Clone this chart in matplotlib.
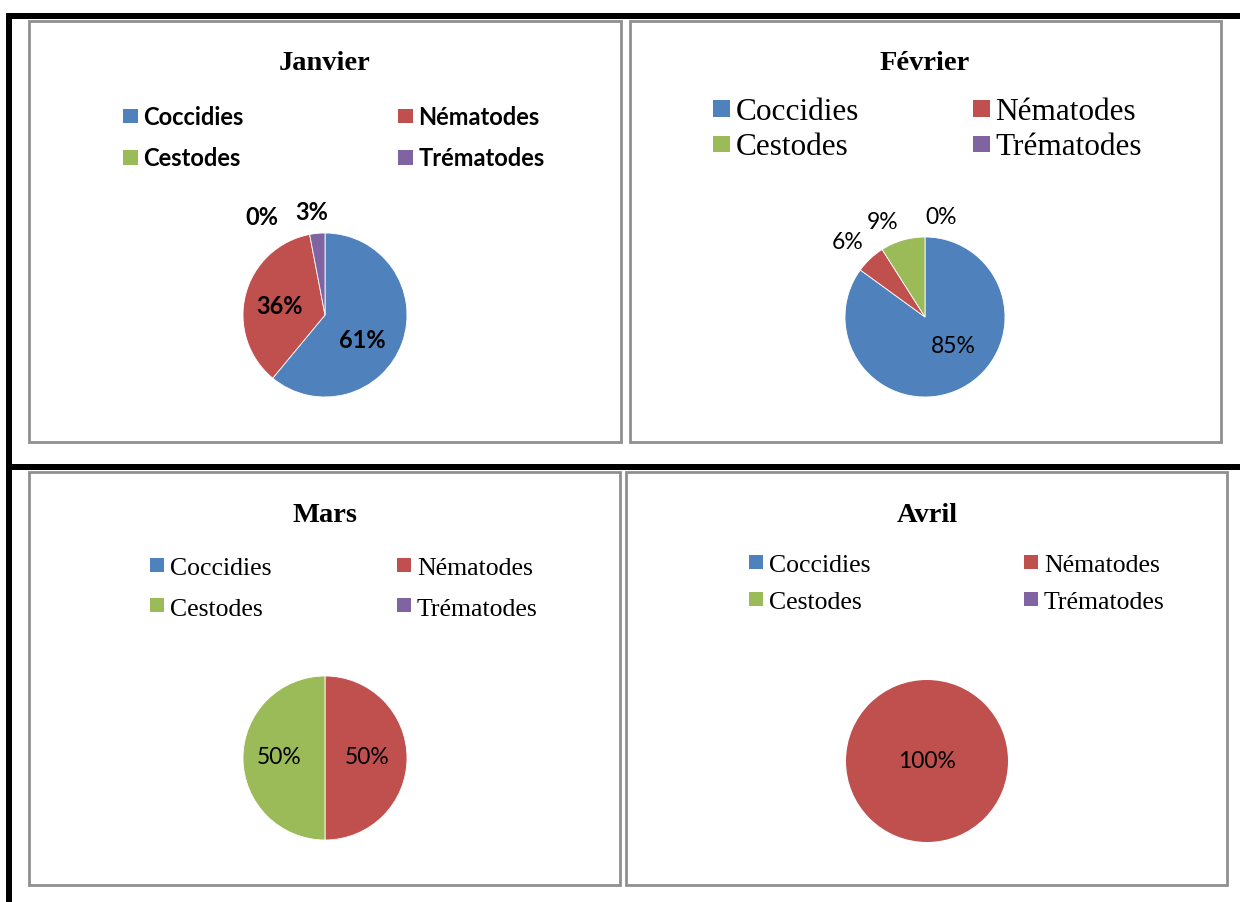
import numpy as np
import matplotlib.pyplot as plt
from matplotlib.patches import Rectangle

# parasites et couleurs
categories = ["Coccidies", "Nématodes", "Cestodes", "Trématodes"]
couleurs = ["#4F81BD", "#C0504D", "#9BBB59", "#8064A2"]

mois = ["Janvier", "Février", "Mars", "Avril"]
janvier = [61, 36, 0, 3]
fevrier = [85, 6, 9, 0]
mars = [0, 50, 50, 0]
avril = [0, 100, 0, 0]
# parts affichées en étiquette
etiq_janvier = [True, True, True, True]
etiq_fevrier = [True, True, True, True]
etiq_mars = [False, True, True, False]
etiq_avril = [False, True, False, False]

W, H = 1240, 902


def Y(y):
    return H - y


SANS = "Lato"
SERIF = "Liberation Serif"

# mise en page des 4 graphes (en pixels)
panneaux = [
    dict(valeurs=janvier, etiq=etiq_janvier, cadre=(29, 21, 621, 442),
         titre=(325, 70), centre=(325, 315), rayon=82,
         dist=[0.55, 0.56, 1.41, 1.26], decal=[-14, 4, 22, 2],
         leg_x=[123, 398], leg_y=[116, 157.5], leg_base=[125, 166], carre=14.5,
         leg_font=dict(family=SANS, weight="bold", size=17),
         lab_font=dict(family=SANS, weight="bold", size=17)),
    dict(valeurs=fevrier, etiq=etiq_fevrier, cadre=(630, 21, 1221, 442),
         titre=(925, 70), centre=(925, 317), rayon=80,
         dist=[0.51, 1.34, 1.3, 1.26], decal=[16, 3, 8, -9],
         leg_x=[713, 973], leg_y=[108.5, 144], leg_base=[120, 155], carre=16.5,
         leg_font=dict(family=SERIF, size=22.5),
         lab_font=dict(family=SANS, size=16.5)),
    dict(valeurs=mars, etiq=etiq_mars, cadre=(29, 472, 620, 885),
         titre=(325, 522), centre=(325, 758), rayon=82,
         dist=[0.5, 0.52, 0.56, 0.5], decal=[0, 0, 0, 0],
         leg_x=[150, 397], leg_y=[564.5, 605], leg_base=[575, 616], carre=14,
         leg_font=dict(family=SERIF, size=18.5),
         lab_font=dict(family=SANS, size=16.5)),
    dict(valeurs=avril, etiq=etiq_avril, cadre=(626, 472, 1227, 885),
         titre=(927, 522), centre=(927, 761), rayon=81,
         dist=[0, 0, 0, 0], decal=[0, 0, 0, 0],
         leg_x=[749, 1024], leg_y=[562, 598.5], leg_base=[572, 609], carre=14,
         leg_font=dict(family=SERIF, size=18.5),
         lab_font=dict(family=SANS, size=16.5)),
]

fig = plt.figure(figsize=(W / 100, H / 100), dpi=100)
ax = fig.add_axes([0, 0, 1, 1])

for nom, p in zip(mois, panneaux):
    x0, y0, x1, y1 = p["cadre"]
    ax.add_patch(Rectangle((x0, Y(y1)), x1 - x0, y1 - y0, fill=False,
                           edgecolor="#8f8f8f", linewidth=2.0))

    ax.text(p["titre"][0], Y(p["titre"][1]), nom, ha="center", va="baseline",
            family=SERIF, weight="bold", size=20.5)

    # légende sur deux colonnes
    s = p["carre"]
    for i, (cat, col) in enumerate(zip(categories, couleurs)):
        lx = p["leg_x"][i % 2]
        ly = p["leg_y"][i // 2]
        ax.add_patch(Rectangle((lx, Y(ly) - s / 2), s, s, facecolor=col,
                               edgecolor="none"))
        ax.text(lx + s + 6, Y(p["leg_base"][i // 2]), cat, ha="left",
                va="baseline", **p["leg_font"])

    # secteurs
    cx, cy = p["centre"]
    r = p["rayon"]
    vals = p["valeurs"]
    total = float(sum(vals))
    secteurs, _ = ax.pie(vals, colors=couleurs, startangle=90,
                         counterclock=False, center=(cx, Y(cy)), radius=r,
                         wedgeprops=dict(edgecolor="white", linewidth=0.6))
    # pas de trait pour les parts vides ou pleines
    for w, v in zip(secteurs, vals):
        if v == 0 or v == total:
            w.set_linewidth(0)

    cumul = 0.0
    for i, v in enumerate(vals):
        milieu = 90 - 360 * (cumul + v / 2) / total
        cumul += v
        if not p["etiq"][i]:
            continue
        a = np.radians(milieu + p["decal"][i])
        d = p["dist"][i] * r
        ax.text(cx + d * np.cos(a), Y(cy) + d * np.sin(a),
                "%d%%" % round(100 * v / total), ha="center", va="center",
                **p["lab_font"])

# traits noirs du tableau
lw = 6 * 0.72
ax.plot([6, W], [Y(16), Y(16)], color="black", lw=lw, solid_capstyle="butt")
ax.plot([9, 9], [Y(13), 0], color="black", lw=lw, solid_capstyle="butt")
ax.plot([6, W], [Y(467), Y(467)], color="black", lw=lw, solid_capstyle="butt")

ax.set_xlim(0, W)
ax.set_ylim(0, H)
ax.set_aspect("equal")
ax.set_axis_off()

plt.savefig("out.png", dpi=100)
